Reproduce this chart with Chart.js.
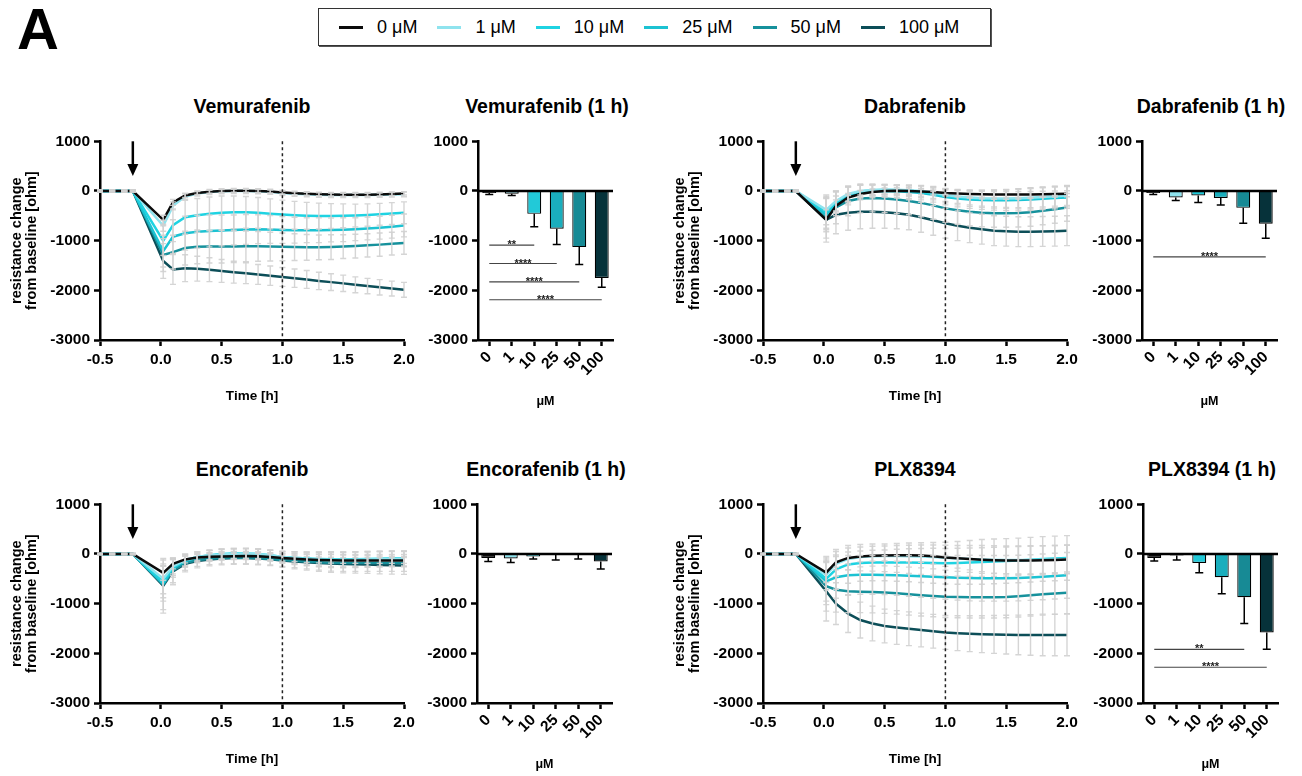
<!DOCTYPE html>
<html>
<head>
<meta charset="utf-8">
<script src="https://cdn.jsdelivr.net/npm/chart.js@4.4.1/dist/chart.umd.min.js"></script>
<style>
  body { margin: 0; background: #fff; font-family: "Liberation Sans", Arial, sans-serif; }
  #page { position: relative; width: 1302px; height: 776px; overflow: hidden; background: #fff; }
  canvas { position: absolute; }
  .fig-label { position: absolute; left: 17px; top: 0; font-size: 58px; line-height: 58px; font-weight: bold; }
  .panel-title { position: absolute; width: 300px; text-align: center; font-size: 19.5px; font-weight: bold; line-height: 24px; }
  .legend {
    position: absolute; left: 318px; top: 8px; width: 673px; height: 38px;
    border: 1px solid #333; box-shadow: 1px 1px 0 #555;
    display: flex; align-items: center; padding-left: 20px; box-sizing: border-box;
    font-size: 18px;
  }
  .legend .item { display: flex; align-items: center; margin-right: 20px; }
  .legend .sw { width: 24px; height: 3px; margin-right: 14px; }
</style>
</head>
<body>
<div id="page">
  <div class="fig-label">A</div>
  <div class="legend" id="legend"></div>

  <div class="panel-title" style="left:102px; top:94px;">Vemurafenib</div>
  <div class="panel-title" style="left:397px; top:94px;">Vemurafenib (1 h)</div>
  <div class="panel-title" style="left:765px; top:94px;">Dabrafenib</div>
  <div class="panel-title" style="left:1061px; top:94px;">Dabrafenib (1 h)</div>
  <div class="panel-title" style="left:102px; top:457px;">Encorafenib</div>
  <div class="panel-title" style="left:396px; top:457px;">Encorafenib (1 h)</div>
  <div class="panel-title" style="left:765px; top:457px;">PLX8394</div>
  <div class="panel-title" style="left:1062px; top:457px;">PLX8394 (1 h)</div>

  <canvas id="lineVem" width="420" height="280" style="left:0px; top:128px;"></canvas>
  <canvas id="barVem" width="195" height="282" style="left:426px; top:128px;"></canvas>
  <canvas id="lineDab" width="420" height="280" style="left:663px; top:128px;"></canvas>
  <canvas id="barDab" width="195" height="282" style="left:1090px; top:128px;"></canvas>
  <canvas id="lineEnc" width="420" height="280" style="left:0px; top:491px;"></canvas>
  <canvas id="barEnc" width="195" height="282" style="left:425px; top:491px;"></canvas>
  <canvas id="linePlx" width="420" height="280" style="left:663px; top:491px;"></canvas>
  <canvas id="barPlx" width="195" height="282" style="left:1091px; top:491px;"></canvas>
</div>

<script>
// ---- data ----
const conc = ['0', '1', '10', '25', '50', '100'];
const timeH = [-0.5, -0.4, -0.3, -0.23, 0.02, 0.1, 0.2, 0.3, 0.4, 0.5, 0.6, 0.7, 0.8, 0.9, 1.0,
               1.1, 1.2, 1.3, 1.4, 1.5, 1.6, 1.7, 1.8, 1.9, 2.0];
const timeTicks = [-0.5, 0, 0.5, 1, 1.5, 2];
const ohmTicks = [-3000, -2000, -1000, 0, 1000];
const addTime = -0.23;   // arrow: compound added
const readTime = 1.0;    // dashed line: 1 h read-out

// Vemurafenib
const vem0 = [0,0,0,0,-580,-230,-90,-40,-15,0,5,5,0,-10,-30,-45,-55,-65,-70,-75,-75,-75,-70,-60,-50];
const vem1 = [0,0,0,0,-700,-300,-110,-50,-20,-5,0,0,-5,-15,-40,-55,-65,-75,-80,-80,-80,-80,-75,-70,-65];
const vem10 = [0,0,0,0,-1000,-690,-530,-490,-460,-440,-430,-430,-440,-460,-475,-490,-500,-505,-505,-500,-495,-485,-470,-455,-440];
const vem25 = [0,0,0,0,-1210,-920,-850,-820,-805,-795,-785,-775,-770,-775,-785,-790,-790,-790,-785,-780,-770,-755,-740,-720,-695];
const vem50 = [0,0,0,0,-1290,-1230,-1150,-1125,-1120,-1120,-1120,-1115,-1115,-1120,-1125,-1130,-1135,-1135,-1130,-1120,-1110,-1095,-1080,-1060,-1045];
const vem100 = [0,0,0,0,-1410,-1580,-1555,-1565,-1585,-1610,-1635,-1655,-1680,-1705,-1730,-1755,-1780,-1810,-1835,-1860,-1890,-1915,-1940,-1965,-1990];
const vemSd0 = [15,15,15,15,90,60,40,30,30,30,30,30,30,30,30,30,30,30,30,30,30,30,30,30,30];
const vemSd1 = [15,15,15,15,110,80,60,50,50,50,50,50,50,50,50,50,50,50,50,50,50,50,50,50,50];
const vemSd10 = [20,20,20,20,300,330,340,340,340,340,330,320,310,300,290,280,270,260,250,240,230,225,220,220,220];
const vemSd25 = [20,20,20,20,320,340,340,330,320,310,300,300,290,280,270,260,250,250,240,240,230,230,230,230,230];
const vemSd50 = [20,20,20,20,330,340,340,340,330,330,320,310,300,290,280,270,260,250,250,240,240,235,235,230,230];
const vemSd100 = [20,20,20,20,350,300,270,250,240,230,220,210,200,195,190,185,180,175,170,165,160,155,155,150,150];

// Dabrafenib
const dab0 = [0,0,0,0,-580,-300,-130,-60,-20,0,5,0,-10,-20,-40,-50,-60,-65,-70,-70,-70,-70,-65,-60,-55];
const dab1 = [0,0,0,0,-380,-200,-60,0,20,30,25,15,0,-30,-80,-110,-130,-145,-150,-150,-145,-135,-120,-105,-90];
const dab10 = [0,0,0,0,-430,-230,-80,-10,15,20,15,5,-15,-50,-100,-130,-150,-160,-165,-165,-160,-150,-135,-120,-110];
const dab25 = [0,0,0,0,-480,-260,-100,-30,-5,0,-5,-20,-40,-75,-120,-150,-170,-180,-185,-185,-180,-170,-155,-140,-130];
const dab50 = [0,0,0,0,-550,-330,-200,-150,-140,-150,-170,-200,-240,-290,-350,-390,-420,-440,-450,-450,-445,-430,-400,-370,-330];
const dab100 = [0,0,0,0,-580,-480,-440,-420,-420,-430,-450,-480,-530,-590,-650,-700,-740,-770,-800,-810,-820,-820,-815,-810,-800];
const dabSd0 = [15,15,15,15,200,120,80,70,60,60,60,60,60,60,60,60,60,60,60,60,60,60,60,60,60];
const dabSd1 = [15,15,15,15,300,200,150,120,100,100,100,100,110,120,130,140,150,160,170,180,190,200,200,200,200];
const dabSd10 = [15,15,15,15,320,220,160,130,110,100,100,110,120,130,140,150,160,170,180,190,200,210,210,210,210];
const dabSd25 = [15,15,15,15,340,240,180,150,130,120,120,130,140,150,160,170,180,190,200,210,220,220,220,220,220];
const dabSd50 = [15,15,15,15,400,330,300,290,280,280,280,280,280,280,280,280,280,280,280,280,280,280,280,280,280];
const dabSd100 = [15,15,15,15,450,380,350,340,330,320,310,300,300,300,300,300,300,300,300,300,300,300,300,300,300];

// Encorafenib
const enc0 = [0,0,0,0,-380,-200,-110,-70,-55,-50,-45,-40,-45,-60,-80,-95,-110,-120,-125,-130,-130,-130,-130,-130,-130];
const enc1 = [0,0,0,0,-500,-250,-120,-60,-30,-10,0,10,0,-25,-60,-80,-100,-110,-115,-120,-115,-110,-105,-100,-100];
const enc10 = [0,0,0,0,-560,-270,-130,-60,-25,0,10,10,0,-25,-60,-75,-90,-100,-105,-110,-105,-100,-95,-90,-90];
const enc25 = [0,0,0,0,-600,-290,-140,-70,-35,-10,0,0,-10,-35,-70,-85,-100,-110,-115,-120,-115,-110,-105,-100,-100];
const enc50 = [0,0,0,0,-620,-330,-180,-120,-95,-80,-75,-75,-85,-100,-120,-135,-150,-165,-175,-180,-180,-180,-180,-180,-180];
const enc100 = [0,0,0,0,-640,-350,-200,-140,-110,-90,-80,-80,-90,-105,-130,-150,-165,-180,-190,-200,-205,-210,-220,-225,-230];
const encSd0 = [10,10,10,10,150,100,70,60,60,60,60,60,60,60,60,60,60,60,60,60,60,60,60,60,60];
const encSd1 = [10,10,10,10,300,150,120,100,100,100,100,100,100,100,110,120,130,140,150,150,150,150,150,150,150];
const encSd10 = [10,10,10,10,320,160,120,100,100,100,100,100,100,100,110,120,130,140,150,150,150,150,150,150,150];
const encSd25 = [10,10,10,10,350,180,130,110,110,110,110,110,110,110,120,130,140,150,160,160,160,160,160,160,160];
const encSd50 = [10,10,10,10,500,250,150,130,120,120,120,120,120,120,130,140,150,160,170,170,170,170,170,170,170];
const encSd100 = [10,10,10,10,550,270,160,140,130,130,130,130,130,130,140,150,160,170,180,180,180,180,180,180,180];

// PLX8394
const plx0 = [0,0,0,0,-375,-170,-80,-50,-35,-30,-25,-25,-30,-45,-70,-85,-100,-115,-125,-130,-130,-130,-125,-120,-110];
const plx1 = [0,0,0,0,-420,-200,-100,-60,-45,-40,-40,-45,-50,-60,-75,-90,-100,-110,-115,-120,-120,-120,-115,-110,-105];
const plx10 = [0,0,0,0,-500,-310,-210,-180,-170,-170,-170,-170,-175,-180,-185,-180,-170,-160,-150,-140,-130,-115,-100,-90,-80];
const plx25 = [0,0,0,0,-550,-470,-430,-420,-420,-425,-430,-440,-450,-460,-470,-480,-485,-490,-490,-490,-485,-475,-460,-445,-430];
const plx50 = [0,0,0,0,-650,-720,-750,-760,-765,-775,-790,-810,-830,-845,-860,-865,-870,-870,-870,-865,-850,-830,-810,-795,-780];
const plx100 = [0,0,0,0,-750,-1000,-1200,-1330,-1400,-1450,-1480,-1505,-1530,-1555,-1580,-1595,-1605,-1615,-1620,-1625,-1630,-1630,-1630,-1630,-1630];
const plxSd0 = [10,10,10,10,200,150,120,110,110,110,120,130,140,160,180,200,220,240,260,270,280,290,290,290,290];
const plxSd1 = [10,10,10,10,300,250,220,200,200,200,210,220,230,240,250,260,270,280,280,280,280,280,280,280,280];
const plxSd10 = [10,10,10,10,450,400,380,370,370,370,380,390,400,410,420,430,440,450,450,450,450,450,450,450,450];
const plxSd25 = [10,10,10,10,470,420,400,390,390,390,400,410,420,430,440,450,460,460,460,460,460,460,460,460,460];
const plxSd50 = [10,10,10,10,500,450,430,420,420,420,420,420,420,420,420,420,420,420,420,420,420,420,420,420,420];
const plxSd100 = [10,10,10,10,600,420,380,360,350,340,340,340,340,340,340,350,360,370,380,390,400,410,420,420,420];

// 1 h bars (mean, downward SD) and significance bars vs 0 µM
const vemBar = [-40, -55, -460, -760, -1130, -1750];
const vemBarSd = [30, 35, 260, 320, 350, 190];
const vemSigTo = [2, 3, 4, 5];
const vemSigY = [-1090, -1460, -1830, -2190];
const vemSigText = ['**', '****', '****', '****'];

const dabBar = [-40, -130, -90, -140, -340, -660];
const dabBarSd = [30, 60, 140, 140, 310, 290];
const dabSigTo = [5];
const dabSigY = [-1325];
const dabSigText = ['****'];

const encBar = [-80, -90, -50, -10, -5, -150];
const encBarSd = [70, 80, 50, 110, 95, 150];
const encSigTo = [];
const encSigY = [];
const encSigText = [];

const plxBar = [-80, -30, -180, -470, -870, -1580];
const plxBarSd = [60, 90, 200, 330, 530, 340];
const plxSigTo = [4, 5];
const plxSigY = [-1920, -2280];
const plxSigText = ['**', '****'];

// ---- styling ----
const lineColors = ['#0b0b0b', '#8fe3ee', '#1fd3e2', '#1cc2d2', '#16919c', '#0c4e58'];
const barColors = ['#111111', '#8fe3ee', '#22c9d8', '#1aaebd', '#178a95', '#06323a'];
const FONT = '"Liberation Sans", Arial, sans-serif';
Chart.defaults.font.family = FONT;
Chart.defaults.color = '#000';

document.getElementById('legend').innerHTML = conc.map((c, i) =>
  `<span class="item"><span class="sw" style="background:${lineColors[i]}"></span>${c} μM</span>`).join('');

const tickFont = { size: 15.5, weight: 'bold' };
const axisGrid = { drawOnChartArea: false, drawTicks: true, tickLength: 6, tickWidth: 2.5, tickColor: '#000' };
const axisBorder = { color: '#000', width: 2.5 };

function ohmAxis(width, withTitle) {
  return {
    min: -3000, max: 1000,
    border: axisBorder, grid: axisGrid,
    afterBuildTicks: s => { s.ticks = ohmTicks.map(v => ({ value: v })); },
    ticks: { font: tickFont, padding: 4, color: '#000', callback: v => String(v) },
    title: {
      display: withTitle,
      text: ['resistance change', 'from baseline [ohm]'],
      font: { size: 14.5, weight: 'bold', lineHeight: 1.05 },
      color: '#000',
      padding: { top: 9, bottom: 0 }
    },
    afterFit: s => { s.width = width; }
  };
}

function lineMarks(sds) {
  return {
    id: 'lineMarks',
    afterDatasetsDraw(chart) {
      const { ctx, chartArea: a, scales: { x, y } } = chart;
      ctx.save();
      // grey SD bars drawn over the traces
      ctx.strokeStyle = 'rgba(208,208,208,0.9)';
      ctx.lineWidth = 1.4;
      chart.data.datasets.forEach((ds, k) => {
        ds.data.forEach((pt, i) => {
          const px = x.getPixelForValue(pt.x);
          const hi = y.getPixelForValue(pt.y + sds[k][i]);
          const lo = y.getPixelForValue(pt.y - sds[k][i]);
          ctx.beginPath();
          ctx.moveTo(px, hi); ctx.lineTo(px, lo);
          ctx.moveTo(px - 3, hi); ctx.lineTo(px + 3, hi);
          ctx.moveTo(px - 3, lo); ctx.lineTo(px + 3, lo);
          ctx.stroke();
        });
      });
      // dashed 1 h line
      const xr = x.getPixelForValue(readTime);
      ctx.strokeStyle = '#222';
      ctx.lineWidth = 1.5;
      ctx.setLineDash([3, 3]);
      ctx.beginPath(); ctx.moveTo(xr, a.top); ctx.lineTo(xr, a.bottom); ctx.stroke();
      ctx.setLineDash([]);
      // arrow at compound addition
      const xa = x.getPixelForValue(addTime);
      const yTop = y.getPixelForValue(1000), yTip = y.getPixelForValue(300);
      ctx.strokeStyle = '#000'; ctx.fillStyle = '#000'; ctx.lineWidth = 2.5;
      ctx.beginPath(); ctx.moveTo(xa, yTop); ctx.lineTo(xa, yTip - 10); ctx.stroke();
      ctx.beginPath(); ctx.moveTo(xa - 5.5, yTip - 12); ctx.lineTo(xa + 5.5, yTip - 12); ctx.lineTo(xa, yTip); ctx.closePath(); ctx.fill();
      ctx.restore();
    }
  };
}

function makeLine(id, means, sds) {
  new Chart(document.getElementById(id), {
    type: 'line',
    data: {
      datasets: means.map((m, k) => ({
        label: conc[k] + ' μM',
        data: m.map((v, i) => ({ x: timeH[i], y: v })),
        borderColor: lineColors[k],
        borderWidth: 2.5,
        pointRadius: 0,
        fill: false,
        tension: 0
      }))
    },
    options: {
      responsive: false, animation: false,
      layout: { padding: { top: 10, right: 16, left: 0, bottom: 0 } },
      plugins: { legend: { display: false }, tooltip: { enabled: false } },
      scales: {
        x: {
          type: 'linear', min: -0.5, max: 2,
          border: axisBorder, grid: axisGrid,
          afterBuildTicks: s => { s.ticks = timeTicks.map(v => ({ value: v })); },
          ticks: { font: tickFont, padding: 4, maxRotation: 0, color: '#000', callback: v => Number(v).toFixed(1) },
          title: { display: true, text: 'Time [h]', font: { size: 13.5, weight: 'bold' }, color: '#000', padding: { top: 0, bottom: 4 } },
          afterFit: s => { s.height = 68; }
        },
        y: ohmAxis(100, true)
      }
    },
    plugins: [lineMarks(sds)]
  });
}

function barMarks(sd, sigTo, sigY, sigText) {
  return {
    id: 'barMarks',
    afterDatasetsDraw(chart) {
      const { ctx, chartArea: a, scales: { x, y } } = chart;
      const meta = chart.getDatasetMeta(0);
      const vals = chart.data.datasets[0].data;
      ctx.save();
      ctx.strokeStyle = '#000';
      ctx.lineWidth = 1.5;
      meta.data.forEach((bar, i) => {
        const yEnd = y.getPixelForValue(vals[i] - sd[i]);
        ctx.beginPath();
        ctx.moveTo(bar.x, bar.y); ctx.lineTo(bar.x, yEnd);
        ctx.moveTo(bar.x - 4, yEnd); ctx.lineTo(bar.x + 4, yEnd);
        ctx.stroke();
      });
      // zero line
      ctx.lineWidth = 2.5;
      const y0 = y.getPixelForValue(0);
      ctx.beginPath(); ctx.moveTo(a.left, y0); ctx.lineTo(a.right, y0); ctx.stroke();
      // significance bars
      ctx.strokeStyle = '#444'; ctx.fillStyle = '#222'; ctx.lineWidth = 1.2;
      ctx.font = 'bold 11px ' + FONT;
      ctx.textAlign = 'center'; ctx.textBaseline = 'alphabetic';
      sigTo.forEach((to, j) => {
        const x1 = x.getPixelForValue(0), x2 = x.getPixelForValue(to);
        const yy = y.getPixelForValue(sigY[j]);
        ctx.beginPath(); ctx.moveTo(x1, yy); ctx.lineTo(x2, yy); ctx.stroke();
        ctx.fillText(sigText[j], (x1 + x2) / 2, yy + 3);
      });
      ctx.restore();
    }
  };
}

function makeBar(id, vals, sd, sigTo, sigY, sigText) {
  new Chart(document.getElementById(id), {
    type: 'bar',
    data: {
      labels: conc,
      datasets: [{
        data: vals,
        backgroundColor: barColors,
        borderColor: '#000',
        borderWidth: 1.2,
        barPercentage: 0.62,
        categoryPercentage: 1
      }]
    },
    options: {
      responsive: false, animation: false,
      layout: { padding: { top: 10, right: 8, left: 0, bottom: 0 } },
      plugins: { legend: { display: false }, tooltip: { enabled: false } },
      scales: {
        x: {
          border: axisBorder,
          grid: Object.assign({ offset: false }, axisGrid),
          ticks: { font: tickFont, padding: 2, minRotation: 45, maxRotation: 45, autoSkip: false, color: '#000' },
          title: { display: true, text: 'μM', font: { size: 12.5, weight: 'bold' }, color: '#000', padding: { top: 0, bottom: 1 } },
          afterFit: s => { s.height = 70; }
        },
        y: ohmAxis(52, false)
      }
    },
    plugins: [barMarks(sd, sigTo, sigY, sigText)]
  });
}

makeLine('lineVem', [vem0, vem1, vem10, vem25, vem50, vem100], [vemSd0, vemSd1, vemSd10, vemSd25, vemSd50, vemSd100]);
makeLine('lineDab', [dab0, dab1, dab10, dab25, dab50, dab100], [dabSd0, dabSd1, dabSd10, dabSd25, dabSd50, dabSd100]);
makeLine('lineEnc', [enc0, enc1, enc10, enc25, enc50, enc100], [encSd0, encSd1, encSd10, encSd25, encSd50, encSd100]);
makeLine('linePlx', [plx0, plx1, plx10, plx25, plx50, plx100], [plxSd0, plxSd1, plxSd10, plxSd25, plxSd50, plxSd100]);

makeBar('barVem', vemBar, vemBarSd, vemSigTo, vemSigY, vemSigText);
makeBar('barDab', dabBar, dabBarSd, dabSigTo, dabSigY, dabSigText);
makeBar('barEnc', encBar, encBarSd, encSigTo, encSigY, encSigText);
makeBar('barPlx', plxBar, plxBarSd, plxSigTo, plxSigY, plxSigText);
</script>
</body>
</html>
